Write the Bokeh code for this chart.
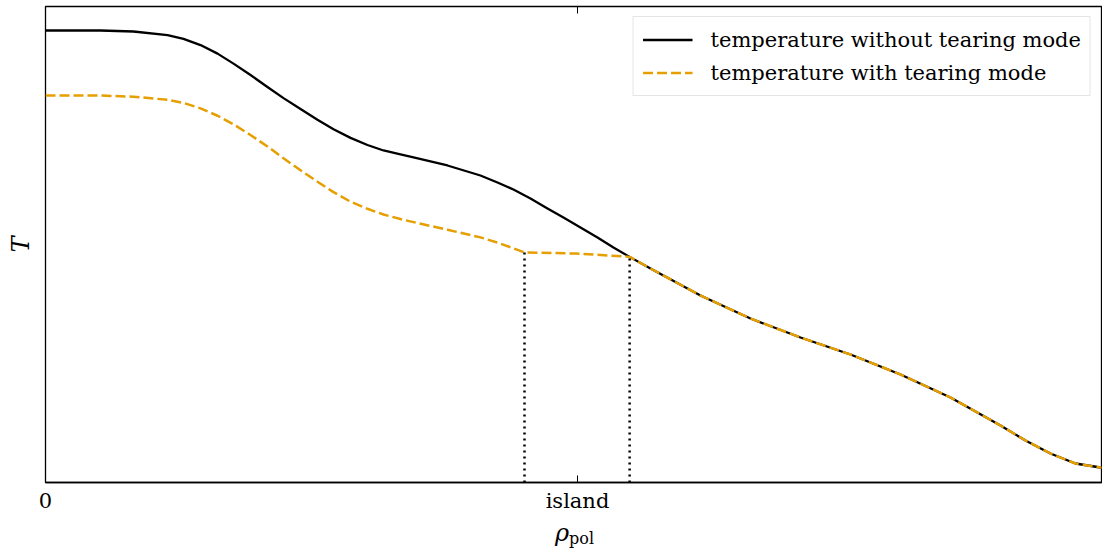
from bokeh.plotting import figure
from bokeh.models import (LinearAxis, FixedTicker, Legend, LegendItem,
                          Range1d, ColumnDataSource, Div)
from bokeh.layouts import column
from bokeh.embed import file_html
from bokeh.resources import INLINE

# ---- data ----
rho_without = [0.0000, 0.0517, 0.0827, 0.1147, 0.1297, 0.1457, 0.1617, 0.1767,
               0.1927, 0.2086, 0.2237, 0.2397, 0.2556, 0.2707, 0.2867, 0.3026,
               0.3177, 0.3336, 0.3459, 0.3778, 0.4088, 0.4248, 0.4398, 0.4558,
               0.4718, 0.4868, 0.5028, 0.5188, 0.5338, 0.5490, 0.5686, 0.6156,
               0.6626, 0.7096, 0.7566, 0.8036, 0.8506, 0.8976, 0.9211, 0.9445,
               0.9680, 0.9915, 1.0000]
T_without = [0.9496, 0.9496, 0.9475, 0.9400, 0.9320, 0.9190, 0.9010, 0.8800,
             0.8560, 0.8310, 0.8075, 0.7845, 0.7620, 0.7420, 0.7240, 0.7090,
             0.6975, 0.6891, 0.6828, 0.6660, 0.6450, 0.6303, 0.6155, 0.5966,
             0.5756, 0.5567, 0.5357, 0.5147, 0.4937, 0.4740, 0.4496, 0.3929,
             0.3445, 0.3046, 0.2689, 0.2269, 0.1786, 0.1197, 0.0882, 0.0609,
             0.0399, 0.0315, 0.0310]

rho_with = [0.0000, 0.0517, 0.0827, 0.1147, 0.1297, 0.1457, 0.1617, 0.1767,
            0.1927, 0.2086, 0.2237, 0.2397, 0.2556, 0.2707, 0.2867, 0.3026,
            0.3177, 0.3336, 0.3459, 0.3778, 0.4088, 0.4248, 0.4398, 0.4502,
            0.4981, 0.5490, 0.5686, 0.6156, 0.6626, 0.7096, 0.7566, 0.8036,
            0.8506, 0.8976, 0.9211, 0.9445, 0.9680, 0.9915, 1.0000]
T_with = [0.8130, 0.8130, 0.8105, 0.8040, 0.7975, 0.7860, 0.7705, 0.7525,
          0.7300, 0.7060, 0.6810, 0.6560, 0.6320, 0.6100, 0.5900, 0.5750,
          0.5630, 0.5535, 0.5470, 0.5310, 0.5150, 0.5040, 0.4920, 0.4832,
          0.4811, 0.4740, 0.4496, 0.3929, 0.3445, 0.3046, 0.2689, 0.2269,
          0.1786, 0.1197, 0.0882, 0.0609, 0.0399, 0.0315, 0.0310]

island_edges = [0.4502, 0.5490]
island_T = [0.4832, 0.4740]
island_base = [0.0, 0.0]

tick_positions = [0, 0.5, 1]
tick_labels = ["0", "island", "1"]

FONT = "DejaVu Serif"
FS = "21px"
ORANGE = "#E69F00"

p = figure(width=1102, height=515, output_backend="svg", toolbar_location=None,
           x_range=Range1d(0, 0.9925), y_range=Range1d(0, 1),
           min_border_left=45, min_border_right=1, min_border_top=6,
           min_border_bottom=33)
p.background_fill_color = "white"
p.border_fill_color = "white"
p.outline_line_color = "black"
p.outline_line_width = 1.3
p.xgrid.visible = False
p.ygrid.visible = False

# x axis
xa = p.xaxis[0]
xa.ticker = FixedTicker(ticks=tick_positions)
xa.major_label_overrides = {t: l for t, l in zip(tick_positions, tick_labels)}
xa.major_tick_in = 7
xa.major_tick_out = 0
xa.minor_tick_in = 0
xa.minor_tick_out = 0
xa.axis_line_color = "black"
xa.axis_line_width = 1.3
xa.major_label_text_font = FONT
xa.major_label_text_font_size = FS
xa.major_label_text_color = "black"
xa.major_label_standoff = 6

# y axis: only a label
ya = p.yaxis[0]
ya.ticker = FixedTicker(ticks=[])
ya.major_tick_in = 0
ya.major_tick_out = 0
ya.minor_tick_in = 0
ya.minor_tick_out = 0
ya.axis_line_color = None
ya.axis_label = "T"
ya.axis_label_text_font = FONT
ya.axis_label_text_font_style = "italic"
ya.axis_label_text_font_size = "24px"
ya.axis_label_text_color = "black"
ya.axis_label_standoff = 11

# mirrored top tick
top = LinearAxis(ticker=FixedTicker(ticks=[0.5]), major_tick_in=7, major_tick_out=0,
                 minor_tick_in=0, minor_tick_out=0, axis_line_color=None,
                 major_label_overrides={0.5: ""}, major_label_standoff=0)
p.add_layout(top, "above")

# curves
r1 = p.line(rho_without, T_without, line_color="black", line_width=2.3,
            line_join="round")
r2 = p.line(rho_with, T_with, line_color=ORANGE, line_width=2.5, line_dash="10 4",
            line_join="round")

# island edges (dotted)
src = ColumnDataSource(dict(x=island_edges, y0=island_base, y1=island_T))
p.segment(x0="x", y0="y0", x1="x", y1="y1", source=src, line_color="black",
          line_width=2.5, line_dash="2 4")

legend = Legend(items=[LegendItem(label="temperature without tearing mode", renderers=[r1]),
                       LegendItem(label="temperature with tearing mode", renderers=[r2])],
                location="top_right", margin=10, padding=9, spacing=6,
                glyph_width=50, glyph_height=27, label_height=27, label_standoff=18,
                label_text_font=FONT, label_text_font_size=FS, label_text_color="black",
                border_line_color="#cccccc", border_line_width=1.5,
                background_fill_color="white", background_fill_alpha=0.9)
p.add_layout(legend)

# x axis label: rho with subscript "pol"
xlabel = Div(text=('<div style="font-family:\'DejaVu Serif\';font-size:24px;'
                   'line-height:24px;padding-left:550px;padding-top:1px;color:black;'
                   'white-space:nowrap;">'
                   '<i>ρ</i><span style="font-size:16px;vertical-align:-3px;">pol</span></div>'),
             width=1102, height=37)

layout = column(p, xlabel, spacing=0)
open("out.html", "w").write(file_html(layout, INLINE))
